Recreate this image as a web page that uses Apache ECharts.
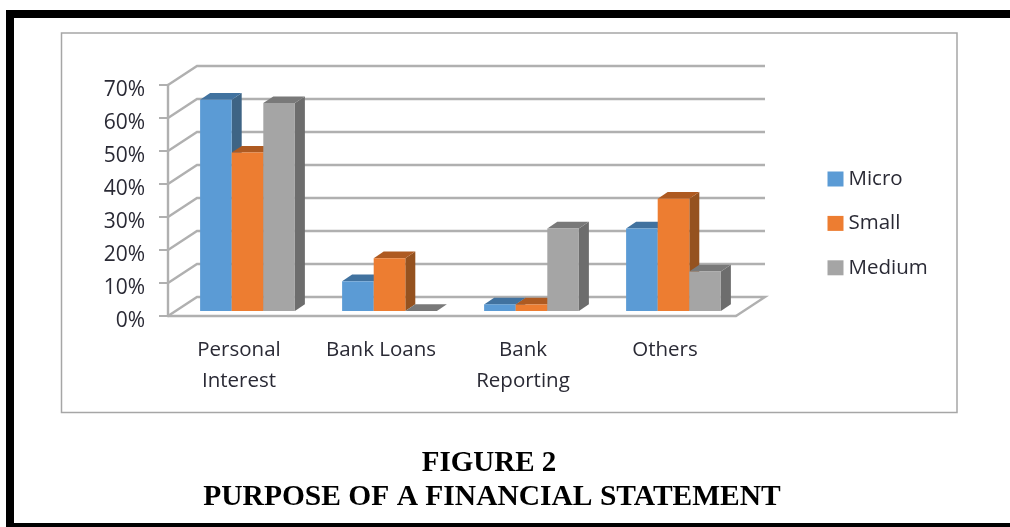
<!DOCTYPE html>
<html lang="en">
  <head>
    <meta charset="UTF-8" />
    <title>Purpose of a Financial Statement</title>
    <script src="https://cdn.jsdelivr.net/npm/echarts/dist/echarts.min.js"></script>
    <style>
      html,
      body {
        margin: 0;
        background: #fff;
      }
      #main {
        width: 1010px;
        height: 527px;
        filter: blur(0.4px); /* the reference is a soft, scaled-up scan */
      }
    </style>
  </head>
  <body>
    <div id="main"></div>
    <script>
      var categories = ["Personal\nInterest", "Bank Loans", "Bank\nReporting", "Others"];
      var micro = [64, 9, 2, 25];
      var small = [48, 16, 2, 34];
      var medium = [63, 0, 25, 12];
      var yTicks = [0, 10, 20, 30, 40, 50, 60, 70];

      var chartFont = "Open Sans";
      var textColor = "#2a2a35";
      var wallX = 29; // depth of the wall
      var wallY = 19;
      var barShiftX = 8.5; // bars stand a bit inside the floor
      var barShiftY = 5;
      var depthX = 10;
      var depthY = 6.7;
      var barRatio = 0.2225;

      function renderWall(params, api) {
        var rect = params.coordSys;
        var y = api.coord([0, api.value(1)])[1];
        var left = rect.x;
        var right = rect.x + rect.width;
        var style = { stroke: "#b0b0b0", lineWidth: 2.4, fill: "none" };
        var pts = [
          [left, y],
          [left + wallX, y - wallY],
          [right + wallX, y - wallY],
        ];
        // the floor gets its right edge too
        if (api.value(1) === 0) {
          pts.push([right, y]);
        }
        return { type: "polyline", shape: { points: pts }, style: style };
      }

      function barRenderer(index, front, top, side) {
        return function (params, api) {
          var cat = api.value(0);
          var base = api.coord([cat, 0]);
          var head = api.coord([cat, api.value(1)]);
          var w = api.size([1, 0])[0] * barRatio;
          var x0 = base[0] - 1.5 * w + index * w + barShiftX;
          var x1 = x0 + w;
          var y0 = base[1] - barShiftY;
          var y1 = head[1] - barShiftY;
          return {
            type: "group",
            children: [
              {
                type: "polygon",
                shape: { points: [[x1, y0], [x1 + depthX, y0 - depthY], [x1 + depthX, y1 - depthY], [x1, y1]] },
                style: { fill: side },
              },
              {
                type: "polygon",
                shape: { points: [[x0, y1], [x1, y1], [x1 + depthX, y1 - depthY], [x0 + depthX, y1 - depthY]] },
                style: { fill: top },
              },
              {
                type: "rect",
                shape: { x: x0, y: y1, width: w, height: y0 - y1 },
                style: { fill: front },
              },
            ],
          };
        };
      }

      function barSeries(name, values, index, front, top, side) {
        return {
          name: name,
          type: "custom",
          clip: false,
          z: 3 + index,
          itemStyle: { color: front },
          encode: { x: 0, y: 1 },
          data: values.map(function (v, i) {
            return [i, v];
          }),
          renderItem: barRenderer(index, front, top, side),
        };
      }

      var chart = echarts.init(document.getElementById("main"));
      chart.setOption({
        animation: false,
        backgroundColor: "#fff",
        title: [
          {
            text: "FIGURE 2",
            left: 484,
            top: 444,
            textAlign: "center",
            textStyle: { fontFamily: "Liberation Serif", fontWeight: "bold", fontSize: 29, color: "#000" },
          },
          {
            text: "PURPOSE OF A FINANCIAL STATEMENT",
            left: 487,
            top: 477,
            textAlign: "center",
            textStyle: { fontFamily: "Liberation Serif", fontWeight: "bold", fontSize: 29.5, color: "#000" },
          },
        ],
        legend: {
          orient: "vertical",
          left: 827.5,
          top: 168.5,
          padding: 0,
          icon: "rect",
          itemWidth: 16,
          itemHeight: 15,
          itemGap: 23.4,
          data: ["Micro", "Small", "Medium"],
          textStyle: { fontFamily: chartFont, fontSize: 20.5, lineHeight: 15, color: textColor },
        },
        grid: { left: 168, right: 274, top: 85, bottom: 211 },
        xAxis: {
          type: "category",
          data: categories,
          axisLine: { lineStyle: { color: "#b0b0b0", width: 2.4 } },
          axisTick: { length: 9, lineStyle: { color: "#9a9a9a", width: 1.5 } },
          axisLabel: {
            margin: 19,
            interval: 0,
            lineHeight: 31,
            fontFamily: chartFont,
            fontSize: 20.5,
            color: textColor,
          },
        },
        yAxis: {
          type: "value",
          min: 0,
          max: 70,
          interval: 10,
          splitLine: { show: false },
          axisLine: { show: true, lineStyle: { color: "#b0b0b0", width: 2.4 } },
          axisTick: { show: true, length: 9, lineStyle: { color: "#b0b0b0", width: 2 } },
          axisLabel: {
            margin: 23,
            verticalAlign: "top", // labels sit slightly below their ticks
            lineHeight: 10,
            formatter: "{value}%",
            fontFamily: chartFont,
            fontSize: 21,
            color: textColor,
          },
        },
        graphic: [
          { type: "rect", shape: { x: 6, y: 10, width: 1004, height: 8 }, style: { fill: "#000" } },
          { type: "rect", shape: { x: 6, y: 10, width: 8, height: 517 }, style: { fill: "#000" } },
          { type: "rect", shape: { x: 6, y: 523, width: 1004, height: 4 }, style: { fill: "#000" } },
          {
            type: "rect",
            shape: { x: 61.5, y: 33, width: 895.5, height: 379.5 },
            style: { fill: "none", stroke: "#a6a6a6", lineWidth: 1.5 },
          },
        ],
        series: [
          {
            name: "wall",
            type: "custom",
            clip: false,
            z: 1,
            encode: { x: 0, y: 1 },
            data: yTicks.map(function (v) {
              return [0, v];
            }),
            renderItem: renderWall,
          },
          barSeries("Micro", micro, 0, "#5b9bd5", "#41729f", "#3e6485"),
          barSeries("Small", small, 1, "#ed7d31", "#ae5a21", "#95521f"),
          barSeries("Medium", medium, 2, "#a5a5a5", "#797979", "#6d6d6d"),
        ],
      });
    </script>
  </body>
</html>
